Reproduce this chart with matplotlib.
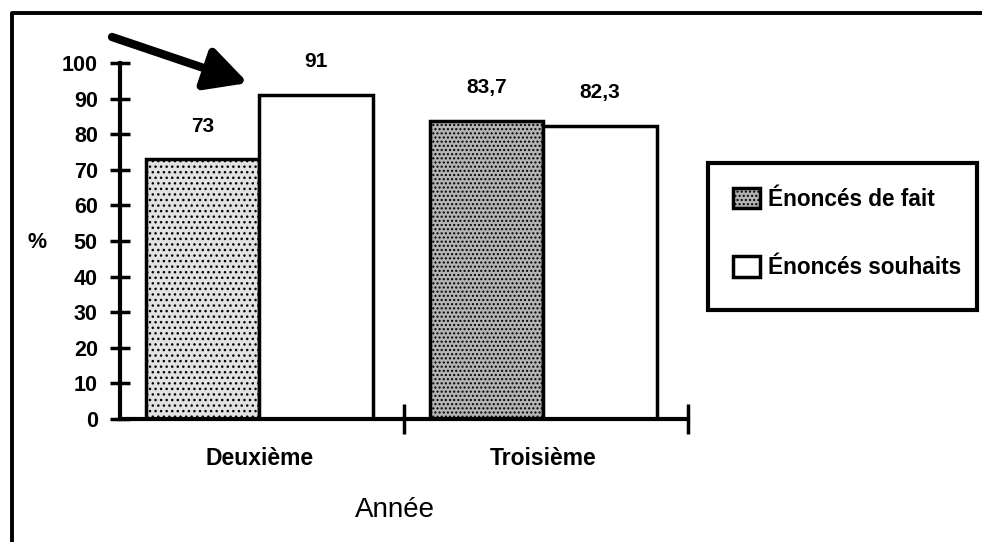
import numpy as np
import matplotlib
matplotlib.use("Agg")
from matplotlib import pyplot as plt
from matplotlib.lines import Line2D
from matplotlib.patches import Rectangle

plt.rcParams['font.family'] = ['Liberation Sans', 'DejaVu Sans']

# data
annees = ["Deuxième", "Troisième"]
series = ["Énoncés de fait", "Énoncés souhaits"]
fait = [73, 83.7]
souhaits = [91, 82.3]
labels_fait = ["73", "83,7"]
labels_souhaits = ["91", "82,3"]
yticks = list(range(0, 101, 10))

fig = plt.figure(figsize=(9.82, 5.42), dpi=100)
ax = fig.add_axes([120/982, 123/542, 568/982, 356/542])

centers = np.array([0.49, 1.49])
w = 0.4
b1 = ax.bar(centers - w/2, fait, w, facecolor='#e2e2e2', edgecolor='black',
            linewidth=2.5, hatch='...', label=series[0])
b2 = ax.bar(centers + w/2, souhaits, w, facecolor='white', edgecolor='black',
            linewidth=2.5, label=series[1])
b1[1].set_facecolor('#b4b4b4')
b1[1].set_hatch('....')

for bars, labs in [(b1, labels_fait), (b2, labels_souhaits)]:
    for r, t in zip(bars, labs):
        ax.annotate(t, (r.get_x() + r.get_width()/2, r.get_height()),
                    xytext=(0, 17), textcoords='offset points',
                    ha='center', va='bottom', fontsize=15, fontweight='bold')

ax.set_xlim(0, 2)
ax.set_ylim(0, 100)
ax.set_yticks(yticks)
ax.set_yticklabels([str(v) for v in yticks], fontsize=15.5, fontweight='bold')
ax.set_xticks([1, 2])
ax.set_xticklabels([])
ax.tick_params(axis='y', direction='inout', length=14, width=2.5, pad=9)
ax.tick_params(axis='x', direction='inout', length=22, width=2.5)
for s in ['top', 'right']:
    ax.spines[s].set_visible(False)
for s in ['left', 'bottom']:
    ax.spines[s].set_linewidth(3)

for c, a in zip(centers, annees):
    ax.text(c, -0.11, a, transform=ax.get_xaxis_transform(), ha='center',
            va='center', fontsize=16.5, fontweight='bold')

fig.text(395/982, 1 - 510/542, "Année", ha='center', va='center', fontsize=20)
fig.text(37/982, 1 - 242/542, "%", ha='center', va='center', fontsize=15.5,
         fontweight='bold')

# legend: entries without frame, box drawn separately
leg = fig.legend(handles=[b1[1], b2[0]], labels=series, loc='upper left',
                 bbox_to_anchor=(733/982, 1 - 188/542), frameon=False,
                 handlelength=1.2, handleheight=1.0, handletextpad=0.35,
                 labelspacing=2.0, borderpad=0, borderaxespad=0,
                 prop={'size': 16.3, 'weight': 'bold'})
fig.patches.append(Rectangle((708/982, 1 - 310/542), 269/982, 147/542,
                             transform=fig.transFigure, fill=False,
                             edgecolor='black', linewidth=3))

# arrow
ax.annotate("", xy=(248/982, 1 - 83/542), xytext=(112/982, 1 - 37/542),
            xycoords='figure fraction', textcoords='figure fraction',
            arrowprops=dict(arrowstyle='-|>,head_length=2.5,head_width=1.3',
                            lw=6, color='black', shrinkA=0, shrinkB=0),
            annotation_clip=False)

# outer frame (top and left only)
fig.lines.append(Line2D([12/982, 12/982, 1], [0, 1 - 13/542, 1 - 13/542],
                        transform=fig.transFigure, color='black',
                        linewidth=2.8))

fig.savefig("out.png", dpi=100)
